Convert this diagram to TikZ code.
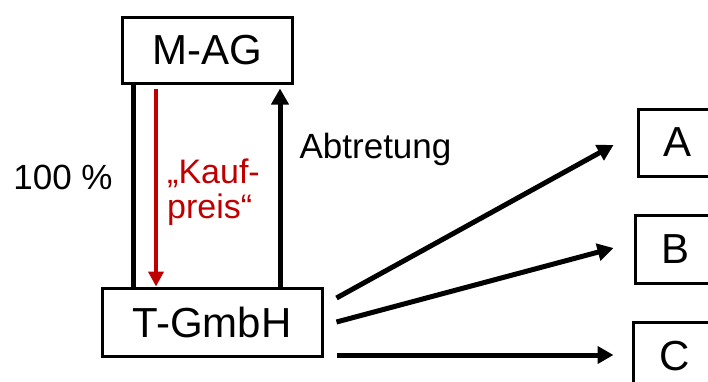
\documentclass[tikz,border=0pt]{standalone}
\usepackage{fontspec}
\setmainfont{Liberation Sans}
\usetikzlibrary{arrows.meta}
\definecolor{pptred}{HTML}{C00000}
\begin{document}
\begin{tikzpicture}[x=1pt,y=-1pt,
  box/.style={draw, line width=3pt, inner sep=0pt, font=\fontsize{42}{48}\selectfont},
  lbl/.style={inner sep=0pt, font=\fontsize{35}{40}\selectfont},
  thick line/.style={line width=5pt},
  arr/.style={line width=5pt, -{Triangle[length=16pt,width=17pt]}},
  redarr/.style={line width=4pt, draw=pptred, -{Triangle[length=15pt,width=15pt]}, color=pptred}]
\useasboundingbox (0,0) rectangle (708,381);
\begin{scope}
\clip (0,0) rectangle (708,381);
\node[box, minimum width=170pt, minimum height=66pt] (MAG) at (207,50) {M-AG};
\node[box, minimum width=220pt, minimum height=68pt] (TG) at (212,322) {T-GmbH};
\node[box, minimum width=78pt, minimum height=67pt] (A) at (677,142.5) {A};
\node[box, minimum width=80pt, minimum height=68pt] (B) at (675,249) {B};
\node[box, minimum width=84pt, minimum height=68pt] (C) at (675,356) {C};
\end{scope}
\coordinate (xl) at (133,0);
\coordinate (xr) at (156,0);
\coordinate (xu) at (280,0);
\draw[thick line] (xl |- MAG.south) -- (xl |- TG.north);
\draw[redarr] ([yshift=-4pt]xr |- MAG.south) -- (xr |- TG.north);
\draw[arr] (xu |- TG.north) -- ([yshift=-4pt]xu |- MAG.south);
\draw[arr] ([xshift=13pt,yshift=24pt]TG.east) -- ([xshift=-23pt,yshift=-2.5pt]A.west);
\draw[arr] ([xshift=13pt]TG.east) -- ([xshift=-20pt,yshift=1pt]B.west);
\draw[arr] ([xshift=13pt,yshift=-33pt]TG.east) -- ([xshift=-18pt,yshift=1pt]C.west);
\node[lbl, anchor=base] (pct) at (63,189) {100 \%};
\node[lbl, anchor=base] (abt) at (375.5,158) {Abtretung};
\node[lbl, anchor=base west, align=left, text=pptred, font=\fontsize{34}{35}\selectfont] (kp) at (167,218) {„Kauf-\\preis“};
\end{tikzpicture}
\end{document}
